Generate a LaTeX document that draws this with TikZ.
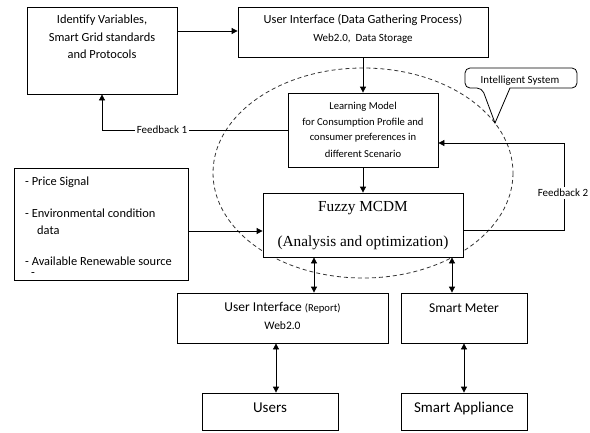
\documentclass[tikz,border=0pt]{standalone}
\usepackage{fontspec}
\setmainfont{Carlito}
\newfontfamily\tnr{Liberation Serif}
\usetikzlibrary{arrows.meta}
\begin{document}
\begin{tikzpicture}[x=1pt,y=-1pt,
  box/.style={draw,thick,fill=white,inner sep=0pt,minimum width=#1},
  txt/.style={inner sep=0pt,font=\fontsize{12.4}{14}\selectfont},
  arr/.style={thick,-{Triangle[length=6pt,width=6pt]}},
  darr/.style={thick,{Triangle[length=6pt,width=6pt]}-{Triangle[length=6pt,width=6pt]}},
  lbl/.style={inner sep=2pt,fill=white,font=\fontsize{11}{13}\selectfont}]
\useasboundingbox (0,0) rectangle (590,432);
% dashed ellipse
\draw[line width=0.8pt,black!80,dash pattern=on 4pt off 3pt] (363,173) ellipse [x radius=150, y radius=105];
% boxes
\node[box=150,minimum height=87] (A) at (102,50.5) {};
\node[box=250,minimum height=50] (B) at (363,32) {};
\node[box=150,minimum height=74] (L) at (363,130) {};
\node[box=200,minimum height=64] (F) at (363,225) {};
\node[box=174,minimum height=112] (P) at (101,224) {};
\node[box=211,minimum height=50] (R) at (282.5,318) {};
\node[box=126,minimum height=50] (M) at (464,318) {};
\node[box=136,minimum height=37] (U) at (270,411.5) {};
\node[box=126,minimum height=37] (S) at (464,411.5) {};
% texts
\node[txt] (a1) at (102,20) {Identify Variables,};
\node[txt] (a2) at (102,37) {Smart Grid standards};
\node[txt] (a3) at (102,54) {and Protocols};
\node[txt] (b1) at (363,20) {User Interface (Data Gathering Process)};
\node[txt,font=\fontsize{11}{13}\selectfont] (b2) at (363,38.5) {Web2.0,\ \ Data Storage};
\node[txt,font=\fontsize{10.6}{12}\selectfont] (l1) at (363,107) {Learning Model};
\node[txt,font=\fontsize{10.6}{12}\selectfont] (l2) at (363,122.5) {for Consumption Profile and};
\node[txt,font=\fontsize{10.6}{12}\selectfont] (l3) at (363,138) {consumer preferences in};
\node[txt,font=\fontsize{10.6}{12}\selectfont] (l4) at (363,153.5) {different Scenario};
\node[txt,font=\tnr\fontsize{15.3}{17}\selectfont] (f1) at (363,208) {Fuzzy MCDM};
\node[txt,font=\tnr\fontsize{15.3}{17}\selectfont] (f2) at (363,243) {(Analysis and optimization)};
\node[txt,anchor=west] (p1) at (25,182) {- Price Signal};
\node[txt,anchor=west] (p2) at (25,213) {- Environmental condition};
\node[txt,anchor=west] (p3) at (37,230) {data};
\node[txt,anchor=west] (p4) at (25,261) {- Available Renewable source};
\node[txt,anchor=west] (p5) at (31,275) {-};
\node[txt,font=\fontsize{13.5}{15}\selectfont] (r1) at (282.5,308) {User Interface {\fontsize{10.6}{12}\selectfont(Report)}};
\node[txt,font=\fontsize{11.5}{13}\selectfont] (r2) at (282.5,325.5) {Web2.0};
\node[txt,font=\fontsize{13.5}{15}\selectfont] (m1) at (464,308) {Smart Meter};
\node[txt,font=\fontsize{15}{17}\selectfont] (u1) at (270,408) {Users};
\node[txt,font=\fontsize{15}{17}\selectfont] (s1) at (464,408) {Smart Appliance};
% callout
\draw[thick,rounded corners=5pt] (482,88) [sharp corners]-- (495,123) -- (510,88) [rounded corners=5pt]-- (577,88) -- (577,68) -- (465,68) -- (465,88) -- cycle;
\node[txt,font=\fontsize{10.9}{12}\selectfont] (cs) at (520,81) {Intelligent System};
% connectors
\draw[arr] (A.east |- 0,31) -- (B.west |- 0,31);
\draw[arr] (B.south) -- (L.north);
\draw[arr] (L.south) -- (F.north);
\draw[arr] (L.west) -- (A.south |- L.west) -- (A.south);
\node[lbl] (fb1) at (162,130) {Feedback 1};
\coordinate (c2a) at (564,230);
\coordinate (c2b) at (564,143);
\draw[arr] (F.east |- c2a) -- (c2a) -- (c2b) -- (L.east |- c2b);
\node[lbl] (fb2) at (563,193) {Feedback 2};
\draw[arr] (P.east |- 0,231) -- (F.west |- 0,231);
\draw[darr] (F.south -| 314,0) -- (R.north -| 314,0);
\draw[darr] (F.south -| 452,0) -- (M.north -| 452,0);
\draw[darr] (R.south -| 276,0) -- (U.north -| 276,0);
\draw[darr] (M.south) -- (S.north);
\end{tikzpicture}
\end{document}
